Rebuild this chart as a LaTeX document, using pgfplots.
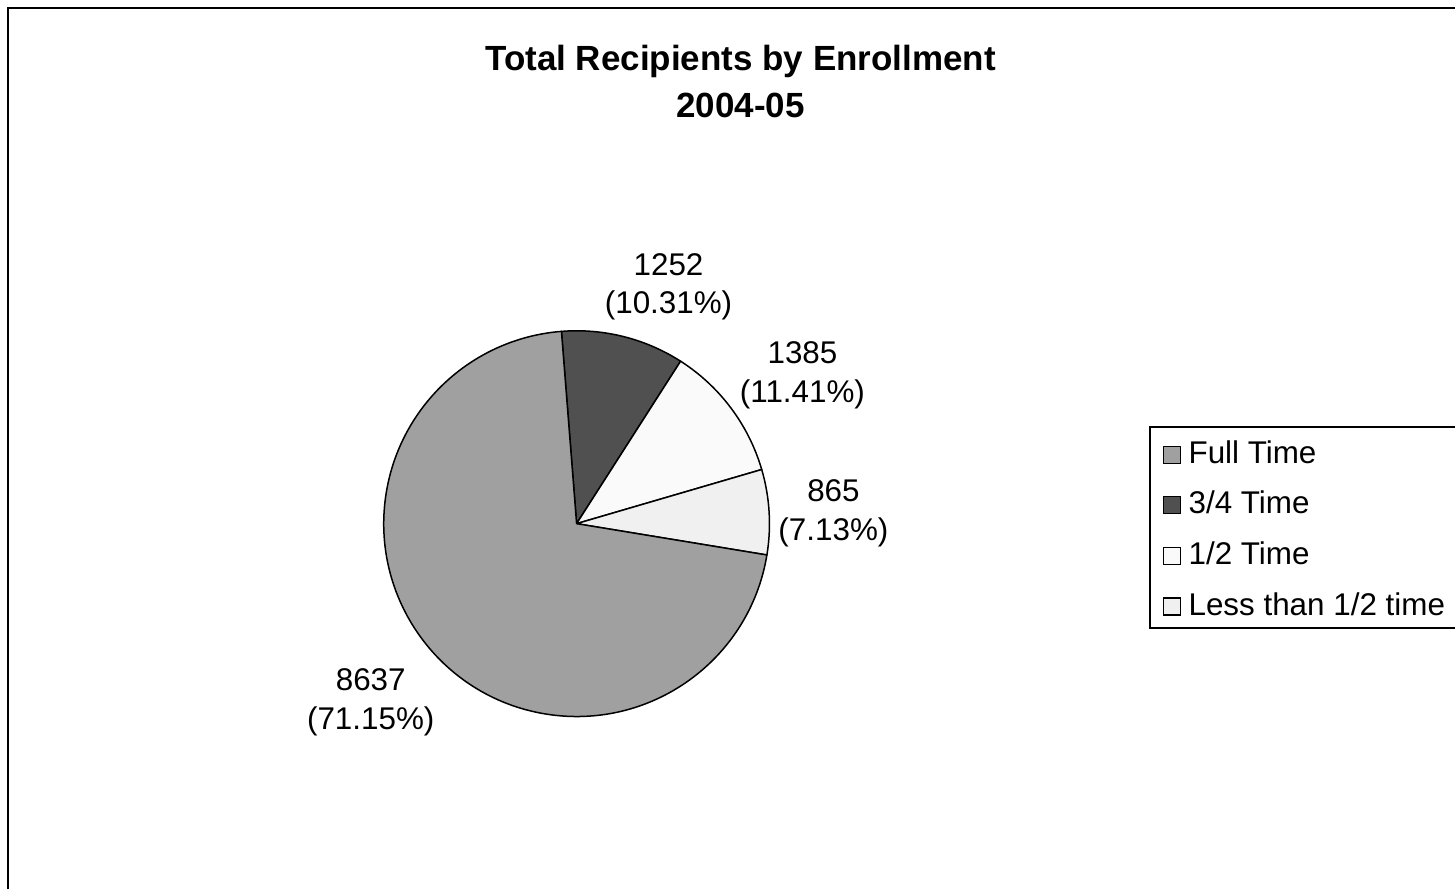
\documentclass[border=0pt]{standalone}
\usepackage{pgfplots}
\pgfplotsset{compat=1.18}
\usepackage{pgfplotstable}
\usepackage{fontspec}
\setmainfont{Liberation Sans}
\definecolor{cFull}{RGB}{160,160,160}
\definecolor{cThree}{RGB}{80,80,80}
\definecolor{cHalf}{RGB}{250,250,250}
\definecolor{cLess}{RGB}{240,240,240}

% slices in clockwise order starting at 94.5 degrees
\pgfplotstableread[col sep=comma]{
name,value,col
3/4 Time,1252,cThree
1/2 Time,1385,cHalf
Less than 1/2 time,865,cLess
Full Time,8637,cFull
}\pietable

\begin{document}
\begin{tikzpicture}
\begin{axis}[
  x=0.5pt, y=0.5pt,
  xmin=0, xmax=1456, ymin=0, ymax=890,
  hide axis, clip=false,
  scale only axis,
]
\path (axis cs:0,0) rectangle (axis cs:1456,890);
% frame
\draw[line width=1pt] (axis cs:7.7,0) -- (axis cs:7.7,882.3) -- (axis cs:1456,882.3);
% total
\def\total{0}
\pgfplotsforeachungrouped \i in {0,...,3}{%
  \pgfplotstablegetelem{\i}{value}\of\pietable
  \pgfmathsetmacro\newtotal{\total+\pgfplotsretval}%
  \global\let\total\newtotal
}
\def\curang{94.5}
\pgfplotsforeachungrouped \i in {0,...,3}{%
  \pgfplotstablegetelem{\i}{value}\of\pietable \let\v\pgfplotsretval
  \pgfplotstablegetelem{\i}{col}\of\pietable \let\c\pgfplotsretval
  \pgfmathsetmacro\sweep{\v/\total*360}%
  \pgfmathsetmacro\endang{\curang-\sweep}%
  \edef\temp{\noexpand\filldraw[fill=\c, draw=black, line width=0.75pt, line join=round] (axis cs:577,366) -- ++(\curang:96.5pt) arc[start angle=\curang, end angle=\endang, radius=96.5pt] -- cycle;}%
  \temp
  \global\let\curang\endang
}
% title
\node[align=center, font=\fontsize{17.5}{23.5}\selectfont\bfseries] at (axis cs:741,808.5) {Total Recipients by Enrollment\\2004-05};
% labels
\node[align=center, font=\fontsize{15.7}{19.5}\selectfont] at (axis cs:669,603) {1252\\(10.31\%)};
\node[align=center, font=\fontsize{15.7}{19.5}\selectfont] at (axis cs:803,514.5) {1385\\(11.41\%)};
\node[align=center, font=\fontsize{15.7}{19.5}\selectfont] at (axis cs:834,376) {865\\(7.13\%)};
\node[align=center, font=\fontsize{15.7}{19.5}\selectfont] at (axis cs:371,187) {8637\\(71.15\%)};
% legend
\draw[line width=0.9pt] (axis cs:1456,463) -- (axis cs:1150.5,463) -- (axis cs:1150.5,261.5) -- (axis cs:1456,261.5);
\pgfplotsforeachungrouped \i/\yy in {3/435, 0/384.3, 1/333.3, 2/283}{%
  \pgfplotstablegetelem{\i}{col}\of\pietable \let\c\pgfplotsretval
  \pgfplotstablegetelem{\i}{name}\of\pietable \let\n\pgfplotsretval
  \pgfmathsetmacro\ya{\yy-8.5}\pgfmathsetmacro\yb{\yy+8.5}%
  \edef\temp{\noexpand\filldraw[fill=\c, draw=black, line width=0.6pt] (axis cs:1164,\ya) rectangle (axis cs:1181,\yb);
  \noexpand\node[anchor=base west, inner sep=0pt, font=\noexpand\fontsize{15.7}{19}\noexpand\selectfont] at (axis cs:1189,\ya) {\n};}%
  \temp
}
\end{axis}
\end{tikzpicture}
\end{document}
